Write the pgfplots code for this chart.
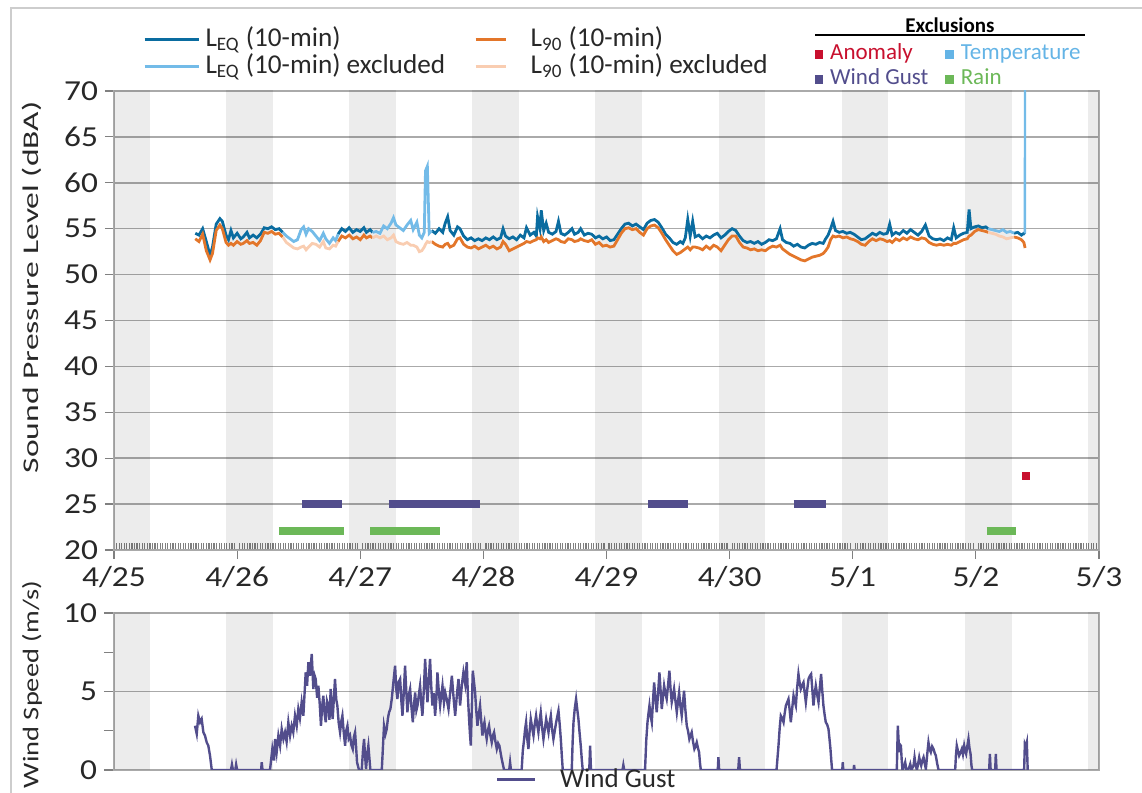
\documentclass[border=0pt]{standalone}
\usepackage{fontspec}
\setmainfont{Carlito}
\newfontfamily\ylabfont[FakeStretch=1.5]{Carlito}
\newfontfamily\ylabfontb[FakeStretch=1.27]{Carlito}
\newfontfamily\tickfont[FakeStretch=1.15]{Carlito}
\usepackage{pgfplots}
\pgfplotsset{compat=1.18}
\usepackage{pgfplotstable}

\definecolor{leqc}{RGB}{10,108,160}
\definecolor{leqx}{RGB}{115,187,232}
\definecolor{lnc}{RGB}{227,118,42}
\definecolor{lnx}{RGB}{249,205,177}
\definecolor{windc}{RGB}{82,77,140}
\definecolor{rainc}{RGB}{108,184,88}
\definecolor{anomc}{RGB}{200,16,46}
\definecolor{tempc}{RGB}{100,180,230}
\definecolor{gridc}{RGB}{170,170,170}
\definecolor{framec}{RGB}{205,205,205}
\definecolor{txtc}{RGB}{40,40,40}

% included periods (A, C, E, G) and excluded periods (B, D, F)
\pgfplotstableread{
t leq l90
0.66 54.5 53.9
0.69 54.3 53.6
0.72 55.0 54.4
0.75 53.6 52.6
0.78 52.1 51.6
0.80 53.0 52.3
0.83 55.5 54.8
0.86 56.1 55.4
0.88 55.8 55.0
0.91 54.3 53.5
0.93 53.8 53.2
0.95 54.8 53.4
0.97 54.0 53.2
1.00 54.5 53.6
1.03 53.9 53.3
1.05 54.1 53.4
1.08 54.6 53.7
1.10 54.0 53.4
1.13 54.3 53.5
1.16 54.0 53.2
1.19 54.4 53.7
1.22 55.1 54.6
1.25 55.0 54.5
1.28 55.2 54.7
1.31 54.9 54.4
1.34 55.0 54.5
1.37 54.6 54.1
}\segA
\pgfplotstableread{
t leq l90
1.37 54.6 54.1
1.40 54.2 53.5
1.43 53.9 53.2
1.46 53.6 52.9
1.49 53.8 52.8
1.52 54.9 53.0
1.54 55.2 53.1
1.56 54.4 52.7
1.58 55.0 53.0
1.61 54.7 53.4
1.64 54.2 53.3
1.67 53.7 53.0
1.70 54.5 53.6
1.72 53.9 52.9
1.75 53.4 52.8
1.78 54.0 53.2
1.80 53.7 53.1
1.82 54.4 53.6
}\segB
\pgfplotstableread{
t leq l90
1.82 54.4 53.6
1.85 55.0 54.2
1.88 54.7 54.0
1.91 55.1 54.3
1.94 54.6 53.9
1.97 54.9 54.1
2.00 54.7 53.8
2.03 55.1 54.3
2.05 54.6 54.0
2.08 54.9 54.2
2.10 54.6 54.0
}\segC
\pgfplotstableread{
t leq l90
2.10 54.6 54.0
2.13 54.7 54.2
2.16 54.5 54.0
2.19 55.3 54.2
2.22 55.0 53.8
2.25 55.6 54.0
2.27 56.2 54.3
2.29 55.4 53.6
2.32 55.1 53.4
2.35 54.8 53.3
2.38 55.4 53.5
2.41 55.9 53.2
2.43 54.9 53.2
2.46 55.7 53.0
2.48 54.3 52.5
2.50 54.0 52.6
2.52 54.6 53.0
2.53 61.3 53.3
2.545 61.8 53.6
2.56 54.5 53.5
2.58 54.8 53.6
}\segD
\pgfplotstableread{
t leq l90
2.58 54.8 53.6
2.61 54.5 53.3
2.64 55.0 53.1
2.67 54.6 53.0
2.69 55.6 53.3
2.71 56.3 53.4
2.73 54.8 53.0
2.76 54.3 53.2
2.79 55.2 53.9
2.81 55.0 54.0
2.84 54.2 53.3
2.87 53.8 53.0
2.90 54.0 52.9
2.93 53.7 53.1
2.96 53.9 52.8
2.99 53.7 53.0
3.02 54.0 53.2
3.05 53.8 52.9
3.08 54.1 53.1
3.11 53.8 52.8
3.14 54.0 53.0
3.16 55.0 53.6
3.18 54.2 53.3
3.21 53.9 52.6
3.24 54.1 52.8
3.27 53.8 53.0
3.30 54.3 53.2
3.33 54.0 53.4
3.35 55.1 53.6
3.38 54.3 53.5
3.41 54.6 53.7
3.43 54.2 53.8
3.44 56.3 54.0
3.46 55.0 53.9
3.47 57.0 54.1
3.49 54.8 53.6
3.51 55.6 53.8
3.53 54.6 53.5
3.56 54.4 53.7
3.59 54.7 53.9
3.61 55.8 53.8
3.63 54.5 53.6
3.66 54.3 53.5
3.69 54.6 53.9
3.72 55.0 53.8
3.74 54.4 53.6
3.77 54.6 53.7
3.79 55.0 53.9
3.82 54.3 53.7
3.85 54.5 53.6
3.88 54.4 53.8
3.91 54.0 53.3
3.94 54.2 53.5
3.97 53.9 53.1
4.00 54.1 53.2
4.03 53.7 53.0
4.06 53.8 53.1
4.09 54.4 53.8
4.12 55.0 54.5
4.15 55.5 55.0
4.18 55.6 55.1
4.21 55.3 54.9
4.24 55.5 55.0
4.27 55.2 54.6
4.30 54.9 54.3
4.33 55.6 55.0
4.36 55.9 55.3
4.39 56.0 55.4
4.42 55.7 55.1
4.45 55.1 54.5
4.48 54.4 53.8
4.51 54.0 53.2
4.54 53.5 52.6
4.57 53.3 52.2
4.60 53.6 52.4
4.62 53.4 52.6
4.64 54.0 52.8
4.66 56.0 53.0
4.68 54.2 52.7
4.70 55.8 53.0
4.72 54.1 53.0
4.75 54.3 52.9
4.78 53.9 52.7
4.81 54.2 53.1
4.84 54.0 52.8
4.87 54.3 53.2
4.90 54.5 53.0
4.93 54.0 52.6
4.96 54.3 53.2
4.99 54.7 53.8
5.02 55.0 54.2
5.05 54.8 54.2
5.08 54.2 53.5
5.11 53.7 53.0
5.14 53.5 52.9
5.17 53.6 52.7
5.20 53.4 52.8
5.23 53.6 52.6
5.26 53.3 52.7
5.29 53.5 52.6
5.32 53.8 52.9
5.35 53.7 53.1
5.38 53.9 53.0
5.41 55.0 53.2
5.43 53.8 52.8
5.46 53.5 52.5
5.49 53.4 52.2
5.52 53.1 52.0
5.55 53.3 51.8
5.58 53.0 51.6
5.61 52.9 51.5
5.64 53.2 51.7
5.67 53.4 51.9
5.70 53.3 52.0
5.73 53.5 52.1
5.76 53.4 52.3
5.78 53.9 52.6
5.80 54.3 53.0
5.82 55.0 53.8
5.84 55.8 54.2
5.86 54.8 54.1
5.89 54.6 54.2
5.92 54.7 54.0
5.95 54.5 54.1
5.98 54.6 53.9
6.01 54.4 53.8
6.04 54.1 53.6
6.07 53.8 53.3
6.10 53.9 53.2
6.13 54.2 53.6
6.16 54.5 53.9
6.19 54.3 53.7
6.22 54.6 53.9
6.25 54.4 53.8
6.28 54.5 53.6
6.30 55.5 53.7
6.32 54.3 53.5
6.35 54.6 53.9
6.38 54.4 53.7
6.41 54.8 54.0
6.44 54.5 53.8
6.47 54.9 54.1
6.50 54.6 53.9
6.53 54.3 53.8
6.56 54.7 54.0
6.59 55.4 53.9
6.62 54.2 53.5
6.65 53.9 53.3
6.68 53.8 53.2
6.71 53.9 53.3
6.74 53.7 53.2
6.77 54.0 53.3
6.80 53.8 53.2
6.82 55.1 53.4
6.84 54.0 53.4
6.87 54.3 53.6
6.90 54.5 53.8
6.93 54.6 53.9
6.945 57.1 54.2
6.96 55.0 54.3
6.99 55.2 54.7
7.02 55.3 54.9
7.05 55.1 54.8
7.08 55.2 54.7
7.10 55.0 54.6
}\segE
\pgfplotstableread{
t leq l90
7.10 55.0 54.6
7.13 54.9 54.5
7.16 54.8 54.4
7.19 54.7 54.2
7.22 54.9 54.1
7.25 54.6 53.9
7.28 54.7 54.0
7.31 54.5 54.1
}\segF
\pgfplotstableread{
t leq l90
7.31 54.5 54.1
7.34 54.6 54.0
7.37 54.3 53.8
7.39 54.5 53.5
7.40 54.4 52.9
}\segG

\pgfplotstableread{
t w
0.658 2.82
0.672 2.30
0.685 3.46
0.699 3.04
0.712 3.25
0.726 2.40
0.739 2.19
0.753 1.76
0.766 1.55
0.780 0.91
0.794 0
0.950 0
0.958 0.35
0.966 0
0.985 0
0.992 0.35
1.000 0
1.195 0
1.200 0.50
1.206 0
1.267 0
1.286 1.34
1.300 0.60
1.308 1.97
1.321 1.13
1.335 2.19
1.349 1.55
1.362 2.61
1.376 1.97
1.389 2.40
1.402 1.80
1.416 3.04
1.430 2.19
1.443 2.82
1.456 2.40
1.470 3.46
1.484 2.82
1.497 3.88
1.510 3.30
1.524 4.31
1.538 3.46
1.557 6.22
1.568 5.37
1.579 6.86
1.592 6.00
1.606 7.39
1.619 5.16
1.630 6.00
1.638 5.80
1.650 4.60
1.660 5.37
1.671 4.20
1.681 2.82
1.690 4.00
1.700 4.73
1.710 3.60
1.720 3.04
1.730 4.40
1.741 4.10
1.750 3.20
1.760 5.16
1.768 4.00
1.776 3.25
1.786 4.60
1.795 5.80
1.805 4.50
1.814 4.10
1.825 3.00
1.836 2.40
1.846 3.10
1.855 3.46
1.866 2.40
1.877 1.55
1.886 2.50
1.896 2.82
1.906 2.00
1.917 2.19
1.928 1.60
1.939 1.34
1.948 2.10
1.958 2.40
1.966 1.50
1.974 0.49
1.990 0
2.012 0
2.022 1.20
2.031 1.97
2.040 0.80
2.047 0.06
2.058 1.10
2.066 1.55
2.075 0.70
2.082 0
2.175 0
2.193 2.82
2.205 2.30
2.215 2.61
2.225 3.30
2.234 3.67
2.245 3.90
2.256 4.52
2.269 5.58
2.283 6.64
2.292 5.20
2.302 4.52
2.312 5.60
2.324 5.80
2.334 4.40
2.343 3.46
2.354 5.00
2.364 6.64
2.374 5.00
2.383 3.67
2.395 4.80
2.405 5.16
2.416 4.00
2.427 3.04
2.437 4.20
2.446 4.94
2.456 3.80
2.465 4.10
2.476 4.80
2.486 5.37
2.496 4.20
2.505 3.46
2.517 5.20
2.527 7.07
2.537 5.50
2.546 4.31
2.557 5.80
2.567 7.07
2.577 5.30
2.586 4.10
2.597 4.90
2.608 3.46
2.618 4.50
2.627 6.22
2.638 5.00
2.649 4.10
2.659 4.80
2.668 5.37
2.680 4.30
2.690 4.94
2.703 4.50
2.717 3.88
2.730 4.90
2.744 6.00
2.758 4.60
2.771 3.46
2.785 4.80
2.798 5.80
2.811 4.10
2.825 5.40
2.838 6.22
2.852 5.50
2.865 6.86
2.875 4.60
2.884 3.25
2.891 2.30
2.898 1.55
2.906 3.90
2.914 6.33
2.924 5.60
2.933 4.94
2.942 3.80
2.952 2.82
2.962 3.50
2.973 4.10
2.983 3.10
2.992 2.19
3.000 2.70
3.009 3.04
3.018 2.40
3.027 1.97
3.036 2.50
3.046 2.82
3.057 2.20
3.068 1.76
3.078 2.20
3.087 2.40
3.098 1.80
3.109 1.34
3.120 1.70
3.130 1.55
3.140 1.10
3.149 0.70
3.160 0.30
3.168 0
3.210 0
3.217 0.49
3.224 0
3.311 0
3.320 1.20
3.331 1.97
3.339 2.60
3.347 3.04
3.356 2.00
3.366 1.34
3.375 2.40
3.385 3.25
3.396 2.70
3.407 2.19
3.417 2.90
3.428 3.46
3.437 2.90
3.447 2.40
3.456 3.10
3.466 3.67
3.477 2.70
3.488 1.97
3.499 2.60
3.510 3.25
3.520 2.80
3.529 2.40
3.538 3.00
3.548 3.46
3.558 2.60
3.569 1.97
3.580 2.50
3.591 3.04
3.600 3.40
3.610 3.78
3.620 2.90
3.629 1.97
3.638 0.80
3.645 0
3.718 0
3.725 1.80
3.732 3.04
3.742 3.90
3.753 4.52
3.762 3.90
3.772 3.25
3.781 2.40
3.791 1.55
3.800 0.60
3.807 0
3.860 0
3.867 1.55
3.874 0
4.130 0
4.137 0.32
4.144 0
4.313 0
4.323 1.90
4.333 3.04
4.341 3.60
4.349 4.10
4.358 3.50
4.368 3.04
4.377 4.30
4.387 5.58
4.397 4.60
4.408 3.67
4.420 5.00
4.430 6.22
4.440 5.00
4.449 3.88
4.458 4.60
4.468 5.37
4.478 4.90
4.489 4.52
4.500 5.40
4.511 6.33
4.520 5.20
4.530 4.31
4.540 4.70
4.549 5.16
4.560 4.40
4.571 3.67
4.580 4.30
4.590 4.94
4.600 4.10
4.611 3.46
4.620 4.20
4.630 5.05
4.640 3.90
4.652 2.82
4.662 2.50
4.673 1.97
4.683 2.20
4.692 2.40
4.703 1.80
4.714 1.34
4.723 1.50
4.733 1.76
4.743 1.40
4.752 1.13
4.760 0.40
4.766 0
4.904 0
4.909 0.81
4.915 0
5.070 0
5.077 0.81
5.084 0
5.381 0
5.397 1.55
5.407 2.70
5.416 3.46
5.427 3.30
5.438 3.04
5.447 3.60
5.457 4.10
5.467 4.30
5.478 4.52
5.488 3.80
5.497 3.04
5.508 3.90
5.519 4.73
5.528 4.40
5.538 4.10
5.548 5.20
5.559 6.11
5.568 5.60
5.578 5.16
5.589 5.40
5.600 5.58
5.610 4.90
5.619 4.31
5.630 5.10
5.641 5.80
5.652 6.00
5.662 6.11
5.672 5.10
5.681 4.10
5.690 4.80
5.700 5.37
5.711 4.80
5.722 4.31
5.732 5.20
5.743 6.11
5.752 5.10
5.762 4.10
5.772 3.50
5.781 3.04
5.792 2.90
5.803 2.61
5.811 2.00
5.819 1.34
5.826 0.60
5.832 0
5.915 0
5.919 0.49
5.923 0
6.007 0
6.011 0.32
6.015 0
6.358 0
6.366 2.82
6.373 1.80
6.380 1.13
6.386 1.60
6.391 1.55
6.398 0.60
6.404 0
6.415 0.20
6.426 0.49
6.436 0
6.456 0.10
6.467 0.38
6.477 0
6.494 0.30
6.502 0.81
6.511 0.30
6.521 0
6.531 0.40
6.540 0.81
6.548 0.50
6.556 0.28
6.565 0.60
6.575 0.81
6.585 0.40
6.594 0.06
6.605 1.00
6.615 1.76
6.625 1.30
6.634 1.13
6.645 1.50
6.656 1.34
6.665 1.10
6.675 0.91
6.686 0.40
6.697 0
6.832 0
6.838 0.90
6.845 1.55
6.855 1.20
6.864 0.91
6.875 1.10
6.886 1.34
6.895 1.00
6.905 1.55
6.913 1.20
6.921 1.02
6.930 1.50
6.940 1.97
6.948 1.40
6.957 1.02
6.964 0.30
6.970 0
7.108 0
7.114 1.02
7.120 0
7.157 0
7.162 1.02
7.168 0
7.392 0
7.398 1.66
7.406 1.50
7.414 1.76
7.421 0
}\wind

\pgfplotsset{
  band/.style={fill=black, fill opacity=0.075, draw=none, forget plot},
  common/.style={
    scale only axis, width=492.5bp, anchor=south west,
    xmin=0, xmax=8,
    axis line style={gridc, line width=0.75bp},
    grid style={gridc, line width=0.75bp},
    ymajorgrids,
    tick pos=left, tick align=outside,
    tick style={gray, line width=0.6bp},
    /pgf/number format/assume math mode=true,
    ticklabel style={font=\tickfont\fontsize{14.5bp}{17bp}\selectfont, text=txtc},
    label style={text=txtc},
  },
}

\begin{document}
\begin{tikzpicture}
\path[use as bounding box] (0,0) rectangle (571bp,396.5bp);
\draw[framec, line width=0.75bp] (571bp,392.5bp) -- (5.5bp,392.5bp) -- (5.5bp,-2bp);

% ---------- top axis ----------
\begin{axis}[common,
  height=229.5bp, at={(57bp,121.5bp)},
  ymin=20, ymax=70, ytick={20,25,...,70},
  xtick={0,1,2,3,4,5,6,7,8},
  xticklabels={4/25,4/26,4/27,4/28,4/29,4/30,5/1,5/2,5/3},
  minor x tick num=47,
  major tick length=4.5bp, minor tick length=3.5bp,
  minor x tick style={yshift=3.5bp},
  ylabel={\ylabfont\fontsize{11.2bp}{13bp}\selectfont Sound Pressure Level (dBA)},
  ylabel style={at={(axis description cs:-0.0833,0.572)}, anchor=center},
  legend style={draw=none, fill=none, legend columns=2,
    at={(axis description cs:0.023,1.082)}, anchor=west,
    font=\fontsize{13.6bp}{15bp}\selectfont, text=txtc,
    nodes={inner sep=0.5bp, text height=9.5bp, text depth=3bp},
    /tikz/every even column/.append style={column sep=14bp}},
  legend cell align=left,
]
% night bands
\addplot[band] coordinates {(0,0) (0,100) (0.29,100) (0.29,0)} -- cycle;
\addplot[band] coordinates {(0.91,0) (0.91,100) (1.29,100) (1.29,0)} -- cycle;
\addplot[band] coordinates {(1.91,0) (1.91,100) (2.29,100) (2.29,0)} -- cycle;
\addplot[band] coordinates {(2.91,0) (2.91,100) (3.29,100) (3.29,0)} -- cycle;
\addplot[band] coordinates {(3.91,0) (3.91,100) (4.29,100) (4.29,0)} -- cycle;
\addplot[band] coordinates {(4.91,0) (4.91,100) (5.29,100) (5.29,0)} -- cycle;
\addplot[band] coordinates {(5.91,0) (5.91,100) (6.29,100) (6.29,0)} -- cycle;
\addplot[band] coordinates {(6.91,0) (6.91,100) (7.29,100) (7.29,0)} -- cycle;
\addplot[band] coordinates {(7.91,0) (7.91,100) (8,100) (8,0)} -- cycle;

% exclusion periods
\addplot[windc, line width=4.2bp, forget plot] coordinates {(1.53,25) (1.85,25)};
\addplot[windc, line width=4.2bp, forget plot] coordinates {(2.23,25) (2.97,25)};
\addplot[windc, line width=4.2bp, forget plot] coordinates {(4.34,25) (4.66,25)};
\addplot[windc, line width=4.2bp, forget plot] coordinates {(5.52,25) (5.78,25)};
\addplot[rainc, line width=3.8bp, forget plot] coordinates {(1.34,22.1) (1.87,22.1)};
\addplot[rainc, line width=3.8bp, forget plot] coordinates {(2.08,22.1) (2.65,22.1)};
\addplot[rainc, line width=3.8bp, forget plot] coordinates {(7.09,22.1) (7.33,22.1)};
\addplot[anomc, line width=4bp, forget plot] coordinates {(7.378,28.05) (7.442,28.05)};

% sound levels
\addplot[leqc, line width=1.4bp, forget plot] table[x=t, y=leq] {\segA};
\addplot[leqc, line width=1.4bp, forget plot] table[x=t, y=leq] {\segC};
\addplot[leqc, line width=1.4bp, forget plot] table[x=t, y=leq] {\segE};
\addplot[leqc, line width=1.4bp, forget plot] table[x=t, y=leq] {\segG};
\addplot[lnc, line width=1.4bp, forget plot] table[x=t, y=l90] {\segA};
\addplot[lnc, line width=1.4bp, forget plot] table[x=t, y=l90] {\segC};
\addplot[lnc, line width=1.4bp, forget plot] table[x=t, y=l90] {\segE};
\addplot[lnc, line width=1.4bp, forget plot] table[x=t, y=l90] {\segG};
\addplot[leqx, line width=1.4bp, forget plot] table[x=t, y=leq] {\segB};
\addplot[leqx, line width=1.4bp, forget plot] table[x=t, y=leq] {\segD};
\addplot[leqx, line width=1.4bp, forget plot] table[x=t, y=leq] {\segF};
\addplot[lnx, line width=1.4bp, forget plot] table[x=t, y=l90] {\segB};
\addplot[lnx, line width=1.4bp, forget plot] table[x=t, y=l90] {\segD};
\addplot[lnx, line width=1.4bp, forget plot] table[x=t, y=l90] {\segF};
\addplot[leqx, line width=1.2bp, forget plot] coordinates {(7.398,54.5) (7.40,80)};

\addlegendimage{legend image code/.code={\draw[leqc, line width=1.5bp] (0bp,0bp) -- (27bp,0bp); \path[draw=none, fill=none] (27bp,0bp) rectangle (30bp,0.1bp);}}
\addlegendentry{L\textsubscript{EQ} (10-min)}
\addlegendimage{legend image code/.code={\draw[lnc, line width=1.5bp] (0bp,0bp) -- (15bp,0bp); \path[draw=none, fill=none] (15bp,0bp) rectangle (27bp,0.1bp);}}
\addlegendentry{L\textsubscript{90} (10-min)}
\addlegendimage{legend image code/.code={\draw[leqx, line width=1.5bp] (0bp,0bp) -- (27bp,0bp); \path[draw=none, fill=none] (27bp,0bp) rectangle (30bp,0.1bp);}}
\addlegendentry{L\textsubscript{EQ} (10-min) excluded}
\addlegendimage{legend image code/.code={\draw[lnx, line width=1.5bp] (0bp,0bp) -- (15bp,0bp); \path[draw=none, fill=none] (15bp,0bp) rectangle (27bp,0.1bp);}}
\addlegendentry{L\textsubscript{90} (10-min) excluded}
\end{axis}

% ---------- exclusions legend (legend-only axis) ----------
\begin{axis}[scale only axis, width=492.5bp, height=229.5bp, at={(57bp,121.5bp)},
  anchor=south west, hide axis, xmin=0, xmax=1, ymin=0, ymax=1,
  legend style={draw=none, fill=none, legend columns=2,
    at={(axis description cs:0.705,1.0535)}, anchor=west,
    font=\fontsize{11.5bp}{13bp}\selectfont,
    nodes={inner sep=0.5bp, text height=8.5bp, text depth=3bp},
    /tikz/every even column/.append style={column sep=8bp}},
  legend cell align=left,
]
\addplot[draw=none, forget plot] coordinates {(0,0) (1,1)};
\addlegendimage{legend image code/.code={\fill[anomc] (0bp,-2bp) rectangle (3.6bp,2bp); \path[draw=none, fill=none] (3.6bp,0bp) rectangle (7bp,0.1bp);}}
\addlegendentry{\textcolor{anomc}{Anomaly}}
\addlegendimage{legend image code/.code={\fill[tempc] (0bp,-2bp) rectangle (3.6bp,2bp); \path[draw=none, fill=none] (3.6bp,0bp) rectangle (7bp,0.1bp);}}
\addlegendentry{\textcolor{tempc}{Temperature}}
\addlegendimage{legend image code/.code={\fill[windc] (0bp,-2bp) rectangle (3.6bp,2bp); \path[draw=none, fill=none] (3.6bp,0bp) rectangle (7bp,0.1bp);}}
\addlegendentry{\textcolor{windc}{Wind Gust}}
\addlegendimage{legend image code/.code={\fill[rainc] (0bp,-2bp) rectangle (3.6bp,2bp); \path[draw=none, fill=none] (3.6bp,0bp) rectangle (7bp,0.1bp);}}
\addlegendentry{\textcolor{rainc}{Rain}}
\end{axis}
\node[font=\bfseries\fontsize{10.5bp}{12bp}\selectfont, text=black] at (475bp,384bp) {Exclusions};
\draw[black, line width=0.6bp] (407.5bp,379bp) -- (542.5bp,379bp);

% ---------- wind axis ----------
\begin{axis}[common,
  height=78.5bp, at={(57bp,11.5bp)},
  ymin=0, ymax=10, ytick={0,5,10}, minor ytick={2.5,7.5},
  xtick=\empty,
  major tick length=5bp, minor tick length=5bp,
  ylabel={\ylabfontb\fontsize{11.2bp}{13bp}\selectfont Wind Speed (m/s)},
  ylabel style={at={(axis description cs:-0.0833,0.545)}, anchor=center},
  legend style={draw=none, fill=none,
    at={(axis description cs:0.381,-0.062)}, anchor=west,
    font=\fontsize{13.5bp}{15bp}\selectfont, text=txtc,
    nodes={inner sep=0.5bp}},
]
\addplot[band] coordinates {(0,-1) (0,20) (0.29,20) (0.29,-1)} -- cycle;
\addplot[band] coordinates {(0.91,-1) (0.91,20) (1.29,20) (1.29,-1)} -- cycle;
\addplot[band] coordinates {(1.91,-1) (1.91,20) (2.29,20) (2.29,-1)} -- cycle;
\addplot[band] coordinates {(2.91,-1) (2.91,20) (3.29,20) (3.29,-1)} -- cycle;
\addplot[band] coordinates {(3.91,-1) (3.91,20) (4.29,20) (4.29,-1)} -- cycle;
\addplot[band] coordinates {(4.91,-1) (4.91,20) (5.29,20) (5.29,-1)} -- cycle;
\addplot[band] coordinates {(5.91,-1) (5.91,20) (6.29,20) (6.29,-1)} -- cycle;
\addplot[band] coordinates {(6.91,-1) (6.91,20) (7.29,20) (7.29,-1)} -- cycle;
\addplot[band] coordinates {(7.91,-1) (7.91,20) (8,20) (8,-1)} -- cycle;
\addplot[windc, line width=1.2bp, forget plot] table[x=t, y=w] {\wind};
\addlegendimage{legend image code/.code={\draw[windc, line width=1.5bp] (0bp,0bp) -- (19bp,0bp); \path[draw=none, fill=none] (19bp,0bp) rectangle (31bp,0.1bp);}}
\addlegendentry{Wind Gust}
\end{axis}
\end{tikzpicture}
\end{document}
